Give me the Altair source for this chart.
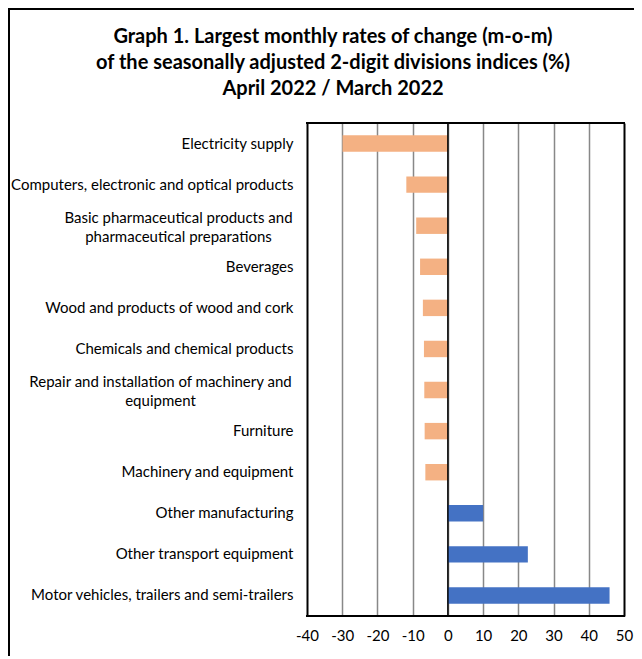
import altair as alt
import pandas as pd

categories = [
    "Electricity supply",
    "Computers, electronic and optical products",
    "Basic pharmaceutical products and|pharmaceutical preparations",
    "Beverages",
    "Wood and products of wood and cork",
    "Chemicals and chemical products",
    "Repair and installation of machinery and|equipment",
    "Furniture",
    "Machinery and equipment",
    "Other manufacturing",
    "Other transport equipment",
    "Motor vehicles, trailers and semi-trailers",
]
values = [-29.9, -11.8, -9.0, -7.9, -7.1, -6.8, -6.7, -6.6, -6.4, 10.0, 22.7, 45.9]
x_ticks = [-40, -30, -20, -10, 0, 10, 20, 30, 40, 50]
title_lines = [
    "Graph 1. Largest monthly rates of change (m-o-m)",
    "of the seasonally adjusted 2-digit divisions indices (%)",
    "April 2022 / March 2022",
]

df = pd.DataFrame({
    "category": categories,
    "value": values,
    "sign": ["neg" if v < 0 else "pos" for v in values],
})
one_df = pd.DataFrame({"t": [0]})

FONT = "Lato"
MULTI = "indexof(datum.value, '|') >= 0"
W, H = 317, 493

y_enc = alt.Y(
    "category:N",
    sort=categories,
    title=None,
    scale=alt.Scale(paddingInner=0.6, paddingOuter=0.3),
    axis=alt.Axis(
        labelExpr="split(datum.label, '|')",
        labelFont=FONT,
        labelFontSize=15,
        labelColor="#000000",
        labelAlign={"condition": {"test": MULTI, "value": "center"}, "value": "right"},
        labelPadding={
            "condition": [
                {"test": "indexof(datum.value, 'Basic') >= 0", "value": 129},
                {"test": "indexof(datum.value, 'Repair') >= 0", "value": 147},
            ],
            "value": 14,
        },
        labelOffset={"condition": {"test": MULTI, "value": -8}, "value": 0},
        labelLimit=400,
        ticks=False,
        domain=False,
        grid=False,
        labelLineHeight=19,
    ),
)

x_scale = alt.Scale(domain=[-40, 50], nice=False)
x_axis = alt.Axis(
    values=x_ticks,
    labelExpr="toString(datum.value)",
    labelFont=FONT,
    labelFontSize=15,
    labelColor="#000000",
    labelPadding=12,
    labelOverlap=False,
    labelFlush=False,
    ticks=False,
    domain=False,
    grid=True,
    gridColor={
        "condition": {"test": "datum.value == -40 || datum.value == 50", "value": "#000000"},
        "value": "#888888",
    },
    gridWidth={
        "condition": {"test": "datum.value == -40 || datum.value == 50", "value": 2},
        "value": 1.5,
    },
)

bars = alt.Chart(df).mark_bar(opacity=1).encode(
    x=alt.X("value:Q", title=None, scale=x_scale, axis=x_axis),
    y=y_enc,
    color=alt.Color(
        "sign:N",
        scale=alt.Scale(domain=["neg", "pos"], range=["#F4B183", "#4472C4"]),
        legend=None,
    ),
)

zero = alt.Chart(one_df).mark_rule(color="#000000", strokeWidth=1.5).encode(
    x=alt.XDatum(0, title=None, scale=x_scale, axis=x_axis)
)

plot_top = alt.Chart(one_df).mark_rule(color="#000000", strokeWidth=2, clip=False).encode(
    x=alt.value(-1), x2=alt.value(W + 1), y=alt.value(0)
)
plot_bottom = alt.Chart(one_df).mark_rule(color="#000000", strokeWidth=2, clip=False).encode(
    x=alt.value(-1), x2=alt.value(W + 1), y=alt.value(H)
)

frame_left = alt.Chart(one_df).mark_rule(color="#000000", strokeWidth=2, clip=False).encode(
    x=alt.value(-298), y=alt.value(-115), y2=alt.value(560)
)
frame_top = alt.Chart(one_df).mark_rule(color="#000000", strokeWidth=2, clip=False).encode(
    x=alt.value(-299), x2=alt.value(360), y=alt.value(-114)
)

title = alt.Chart(one_df).mark_text(
    text=title_lines,
    font=FONT,
    fontSize=20,
    fontWeight="bold",
    color="#000000",
    align="center",
    baseline="middle",
    lineHeight=26,
    clip=False,
).encode(x=alt.value(26), y=alt.value(-86))

chart = alt.layer(bars, zero, plot_top, plot_bottom, frame_left, frame_top, title).properties(
    width=W,
    height=H,
    padding={"left": 299, "top": 115, "right": 10, "bottom": 40},
    autosize=alt.AutoSizeParams(type="none"),
).configure_view(stroke="#000000", strokeWidth=2).configure(background="white")

chart.save("out.html", embed_options={"renderer": "svg", "actions": False})
